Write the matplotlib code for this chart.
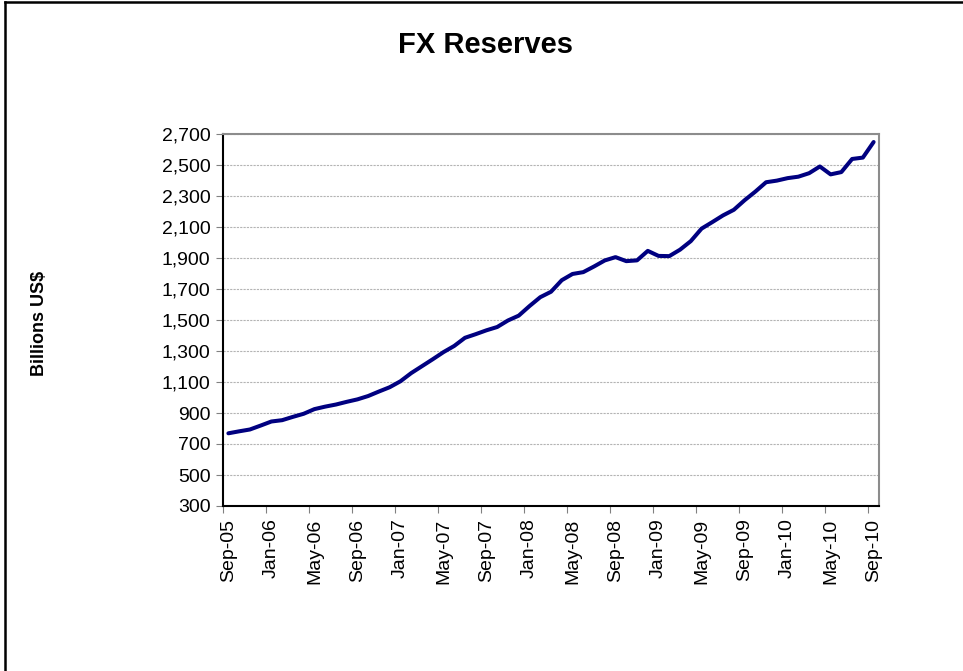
import matplotlib
matplotlib.use("Agg")
import matplotlib.pyplot as plt
from matplotlib.lines import Line2D
import numpy as np

plt.rcParams['font.family'] = ['Liberation Sans', 'DejaVu Sans']

months = ["Sep-05","Oct-05","Nov-05","Dec-05",
          "Jan-06","Feb-06","Mar-06","Apr-06","May-06","Jun-06","Jul-06","Aug-06","Sep-06","Oct-06","Nov-06","Dec-06",
          "Jan-07","Feb-07","Mar-07","Apr-07","May-07","Jun-07","Jul-07","Aug-07","Sep-07","Oct-07","Nov-07","Dec-07",
          "Jan-08","Feb-08","Mar-08","Apr-08","May-08","Jun-08","Jul-08","Aug-08","Sep-08","Oct-08","Nov-08","Dec-08",
          "Jan-09","Feb-09","Mar-09","Apr-09","May-09","Jun-09","Jul-09","Aug-09","Sep-09","Oct-09","Nov-09","Dec-09",
          "Jan-10","Feb-10","Mar-10","Apr-10","May-10","Jun-10","Jul-10","Aug-10","Sep-10"]
reserves = [769.0, 781.8, 793.6, 818.9,
            845.2, 853.7, 875.1, 895.0, 925.0, 941.1, 954.6, 972.0, 987.9, 1009.6, 1038.6, 1066.3,
            1104.7, 1157.4, 1202.0, 1246.6, 1292.7, 1332.6, 1385.2, 1408.6, 1433.6, 1454.9, 1497.0, 1528.2,
            1589.8, 1647.1, 1682.2, 1756.7, 1797.0, 1808.8, 1845.2, 1884.2, 1905.6, 1879.7, 1884.7, 1946.0,
            1913.5, 1912.1, 1953.7, 2008.9, 2089.5, 2131.6, 2175.0, 2210.9, 2272.6, 2328.3, 2388.8, 2399.2,
            2415.2, 2424.6, 2447.1, 2490.5, 2439.5, 2454.3, 2538.9, 2547.8, 2648.3]
y_ticks = [300, 500, 700, 900, 1100, 1300, 1500, 1700, 1900, 2100, 2300, 2500, 2700]
title = "FX Reserves"
ylabel = "Billions US$"

W, H = 963, 671
fig = plt.figure(figsize=(W/100, H/100), dpi=100)
ax = fig.add_axes([223/W, 1-506/H, (879-223)/W, (506-134)/H])

x = np.arange(len(months))
ax.plot(x, reserves, color='#000080', linewidth=2.9, solid_joinstyle='round', solid_capstyle='round', zorder=3)

ax.set_xlim(-0.5, len(months)-0.5)
ax.set_ylim(y_ticks[0], y_ticks[-1])
ax.set_yticks(y_ticks)
ax.set_yticklabels([f"{v:,}" for v in y_ticks])
ax.yaxis.grid(True, color='#b4b4b4', linewidth=0.8, linestyle=(0, (2, 1)))
ax.set_axisbelow(True)

lab_idx = list(range(0, len(months), 4))
ax.set_xticks(lab_idx)
ax.set_xticklabels([months[i] for i in lab_idx], rotation=90, va='top', ha='center')
ax.set_xticks([i - 0.5 for i in lab_idx], minor=True)
ax.tick_params(axis='x', which='major', length=0, pad=9, labelsize=14)
ax.tick_params(axis='x', which='minor', length=5, width=0.8, color='#808080')
ax.tick_params(axis='y', which='major', length=5, width=0.8, pad=4, labelsize=14, color='#808080')

for s in ['top', 'right']:
    ax.spines[s].set_color('#8c8c8c')
    ax.spines[s].set_linewidth(1.5)
for s in ['left', 'bottom']:
    ax.spines[s].set_color('black')
    ax.spines[s].set_linewidth(1.5)

fig.text(486/W, 1-45/H, title, ha='center', va='center', fontsize=21, fontweight='bold')
fig.text(40/W, 1-323/H, ylabel, ha='center', va='center', rotation=90, fontsize=13, fontweight='bold')

# outer frame (left and top edges)
fig.add_artist(Line2D([5/W, 5/W], [0, 1-2/H], transform=fig.transFigure, color='black', linewidth=1.8))
fig.add_artist(Line2D([5/W, 1], [1-2/H, 1-2/H], transform=fig.transFigure, color='black', linewidth=1.8))

fig.savefig("out.png", dpi=100)
